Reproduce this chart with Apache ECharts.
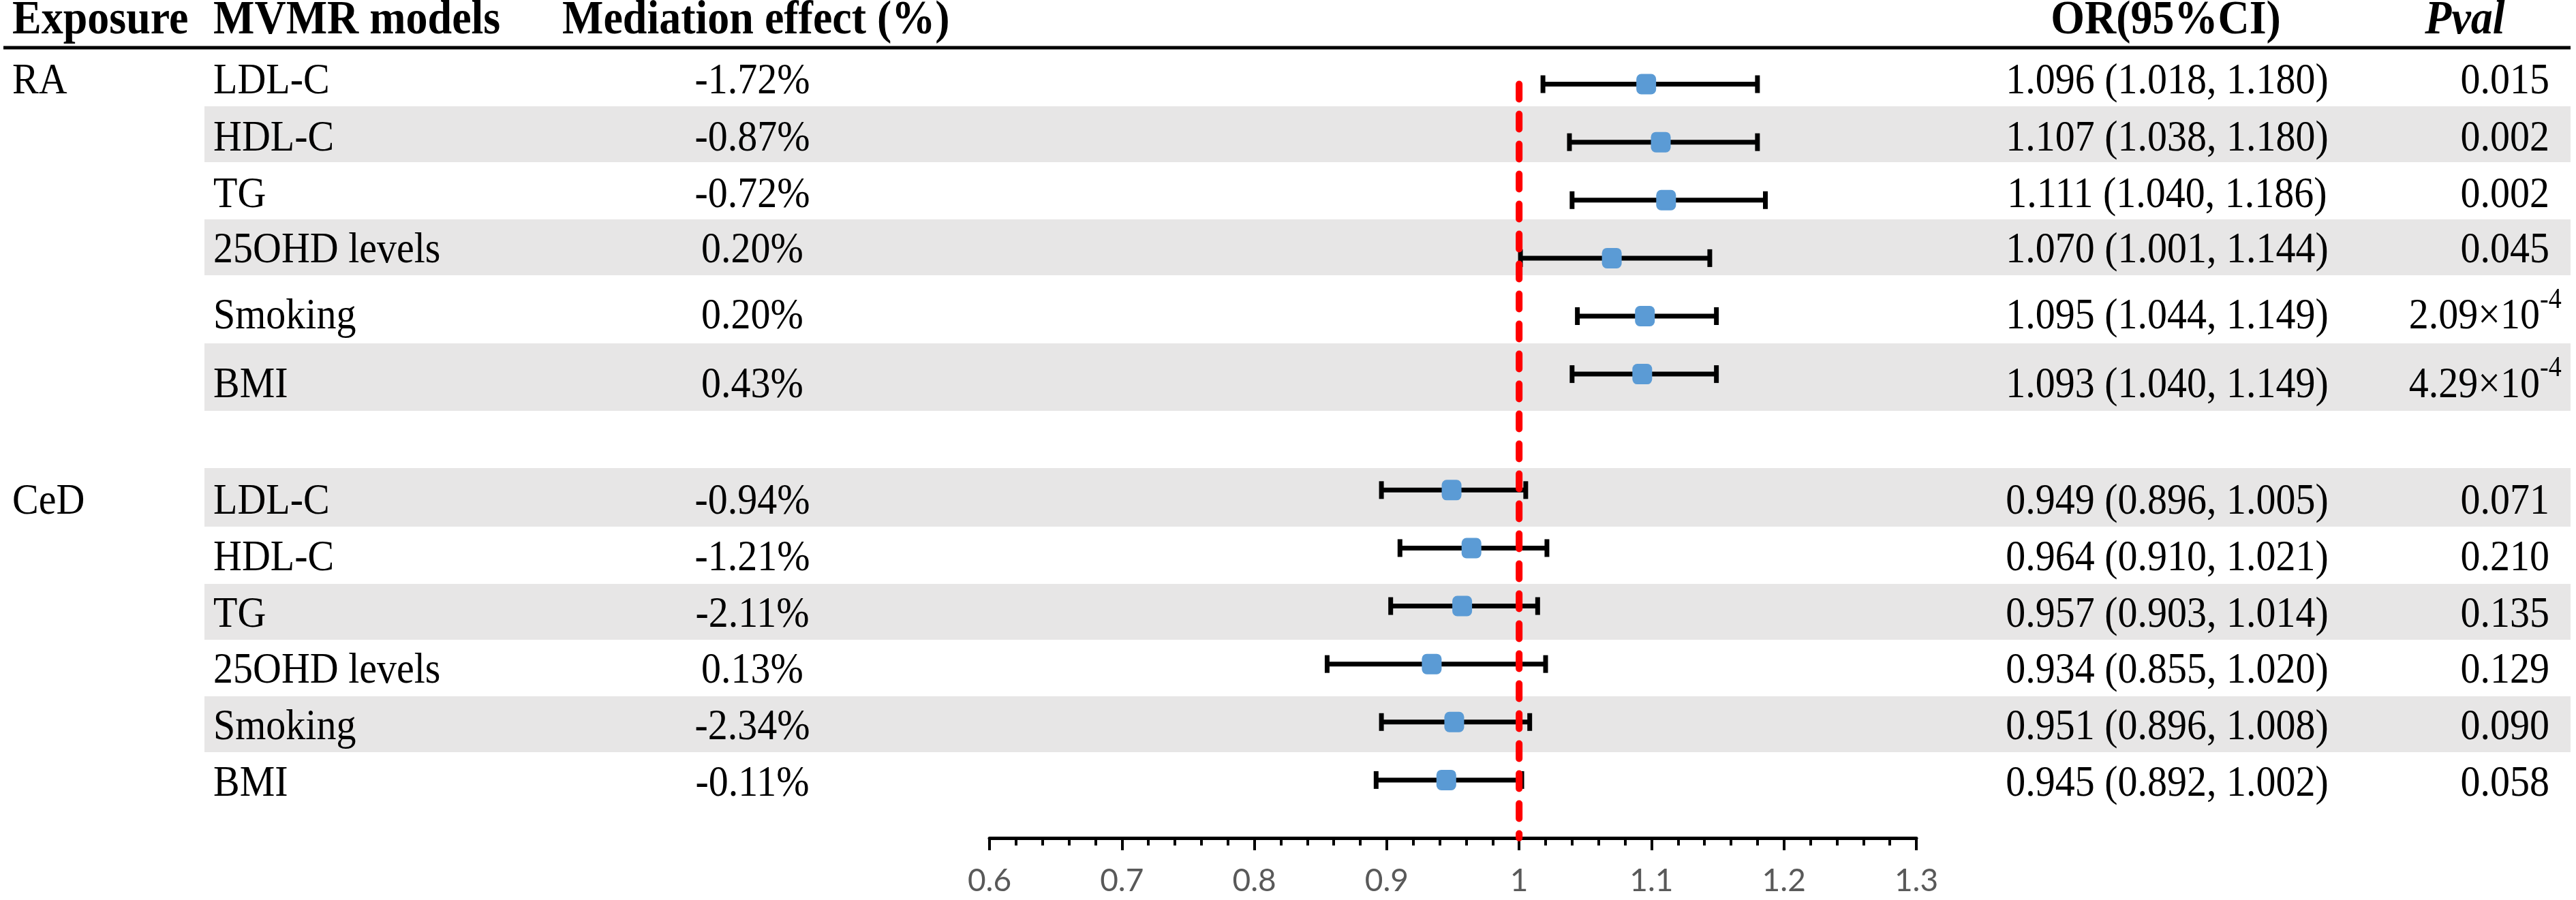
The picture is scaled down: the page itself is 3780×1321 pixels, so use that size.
<!DOCTYPE html>
<html lang="en">
  <head>
    <meta charset="UTF-8" />
    <meta name="viewport" content="width=device-width, initial-scale=1.0" />
    <title>MVMR mediation forest plot</title>
    <script src="https://cdn.jsdelivr.net/npm/echarts@6/dist/echarts.min.js"></script>
    <style>
      html, body { margin: 0; padding: 0; background: #fff; }
    </style>
  </head>
  <body>
    <div id="main" style="width: 3780px; height: 1321px"></div>
    <script>
      // table data, one entry per row (RA rows then CeD rows)
      var exposureLabels = ["RA", "", "", "", "", "", "CeD", "", "", "", "", ""];
      var modelNames = ["LDL-C", "HDL-C", "TG", "25OHD levels", "Smoking", "BMI",
                        "LDL-C", "HDL-C", "TG", "25OHD levels", "Smoking", "BMI"];
      var mediationEffect = ["-1.72%", "-0.87%", "-0.72%", "0.20%", "0.20%", "0.43%",
                             "-0.94%", "-1.21%", "-2.11%", "0.13%", "-2.34%", "-0.11%"];
      var orValue = [1.096, 1.107, 1.111, 1.070, 1.095, 1.093, 0.949, 0.964, 0.957, 0.934, 0.951, 0.945];
      var ciLow = [1.018, 1.038, 1.040, 1.001, 1.044, 1.040, 0.896, 0.910, 0.903, 0.855, 0.896, 0.892];
      var ciHigh = [1.180, 1.180, 1.186, 1.144, 1.149, 1.149, 1.005, 1.021, 1.014, 1.020, 1.008, 1.002];
      var pValues = ["0.015", "0.002", "0.002", "0.045", "2.09×10^-4", "4.29×10^-4",
                     "0.071", "0.210", "0.135", "0.129", "0.090", "0.058"];
      var headers = ["Exposure", "MVMR models", "Mediation effect (%)", "OR(95%CI)", "Pval"];
      // x axis ticks: 0.6 .. 1.3 step 0.1, null line at 1
      var xMin = 0.6, xMax = 1.3, xStep = 0.1, nullValue = 1;

      // layout (row units of the hidden y axis, 1 unit = one plot row)
      var plotRow = [0, 1, 2, 3, 4, 5, 7, 8, 9, 10, 11, 12];
      var textRow = [-0.04, 0.95, 1.92, 2.88, 4.02, 5.2, 7.21, 8.19, 9.16, 10.13, 11.1, 12.07];
      var bandRows = [[0.381, 1.344], [2.331, 3.295], [4.47, 5.633], [6.62, 7.631], [8.618, 9.581], [10.557, 11.521]];

      var SERIF = "Liberation Serif, Times New Roman, serif";
      var myChart = echarts.init(document.getElementById("main"));

      // table text is slightly taller than plain Times in the source figure
      function txt(x, y, s, align, extra) {
        var style = {
          text: s, x: 0, y: 0, fill: "#000", fontFamily: SERIF, fontSize: 58,
          align: align, verticalAlign: "middle"
        };
        for (var k in extra) style[k] = extra[k];
        return { type: "text", x: x, y: y, scaleY: 1.1, style: style };
      }
      var HEAD = { fontWeight: "bold", fontSize: 64 };

      var option = {
        animation: false,
        grid: { left: 1452, right: 968, top: 81, bottom: 91 },
        xAxis: {
          type: "value",
          min: xMin,
          max: xMax,
          interval: xStep,
          splitLine: { show: false },
          axisLine: { show: true, onZero: false, lineStyle: { color: "#000", width: 5 } },
          axisTick: { show: true, length: 18, lineStyle: { color: "#000", width: 4 } },
          minorTick: { show: true, splitNumber: 5, length: 11, lineStyle: { color: "#000", width: 4 } },
          axisLabel: {
            margin: 40,
            color: "#595959",
            fontFamily: "Lato",
            fontSize: 46,
            formatter: function (v) { return +v.toFixed(1) + ""; }
          }
        },
        yAxis: { type: "value", inverse: true, min: -0.5, max: 13, show: false },
        graphic: [
          { type: "line", shape: { x1: 5, y1: 70, x2: 3772, y2: 70 }, style: { stroke: "#000", lineWidth: 5 } },
          txt(18, 31, headers[0], "left", HEAD),
          txt(313, 31, headers[1], "left", HEAD),
          txt(825, 31, headers[2], "left", HEAD),
          txt(3178, 31, headers[3], "center", HEAD),
          txt(3617, 31, headers[4], "center", { fontWeight: "bold", fontStyle: "italic", fontSize: 64 })
        ],
        series: [
          {
            // shaded table rows
            type: "custom",
            z: 1,
            silent: true,
            clip: false,
            data: bandRows,
            encode: { y: [0, 1] },
            renderItem: function (params, api) {
              var y0 = api.coord([xMin, api.value(0)])[1];
              var y1 = api.coord([xMin, api.value(1)])[1];
              return { type: "rect", shape: { x: 300, y: y0, width: 3472, height: y1 - y0 }, style: { fill: "#E7E6E6" } };
            }
          },
          {
            // confidence intervals
            type: "custom",
            z: 3,
            clip: false,
            data: ciLow.map(function (v, i) { return [v, ciHigh[i], plotRow[i]]; }),
            encode: { x: [0, 1], y: 2 },
            renderItem: function (params, api) {
              var a = api.coord([api.value(0), api.value(2)]);
              var b = api.coord([api.value(1), api.value(2)]);
              var st = { stroke: "#000", lineWidth: 7 };
              return {
                type: "group",
                children: [
                  { type: "line", shape: { x1: a[0], y1: a[1], x2: b[0], y2: b[1] }, style: st },
                  { type: "line", shape: { x1: a[0], y1: a[1] - 13, x2: a[0], y2: a[1] + 13 }, style: st },
                  { type: "line", shape: { x1: b[0], y1: b[1] - 13, x2: b[0], y2: b[1] + 13 }, style: st }
                ]
              };
            }
          },
          {
            type: "scatter",
            z: 4,
            symbol: "roundRect",
            symbolSize: [29, 30],
            itemStyle: { color: "#5B9BD5", opacity: 1 },
            data: orValue.map(function (v, i) { return [v, plotRow[i]]; })
          },
          {
            // null line
            type: "line",
            z: 5,
            symbol: "none",
            silent: true,
            data: [[nullValue, 0], [nullValue, 13]],
            lineStyle: { color: "#FF0000", width: 10, type: [22, 22], cap: "round" }
          },
          {
            // table text
            type: "custom",
            z: 6,
            clip: false,
            silent: true,
            data: textRow.map(function (r) { return [xMin, r]; }),
            renderItem: function (params, api) {
              var i = params.dataIndex;
              var y = api.coord([xMin, api.value(1)])[1];
              var orText = orValue[i].toFixed(3) + " (" + ciLow[i].toFixed(3) + ", " + ciHigh[i].toFixed(3) + ")";
              var kids = [
                txt(18, y, exposureLabels[i], "left"),
                txt(313, y, modelNames[i], "left"),
                txt(1104, y, mediationEffect[i], "center"),
                txt(3180, y, orText, "center")
              ];
              var p = pValues[i].split("^");
              if (p.length > 1) {
                kids.push(txt(3727, y, p[0], "right"));
                kids.push(txt(3727, y - 25, p[1], "left", { fontSize: 38 }));
              } else {
                kids.push(txt(3741, y, p[0], "right"));
              }
              return { type: "group", children: kids };
            }
          }
        ]
      };
      myChart.setOption(option);
    </script>
  </body>
</html>
